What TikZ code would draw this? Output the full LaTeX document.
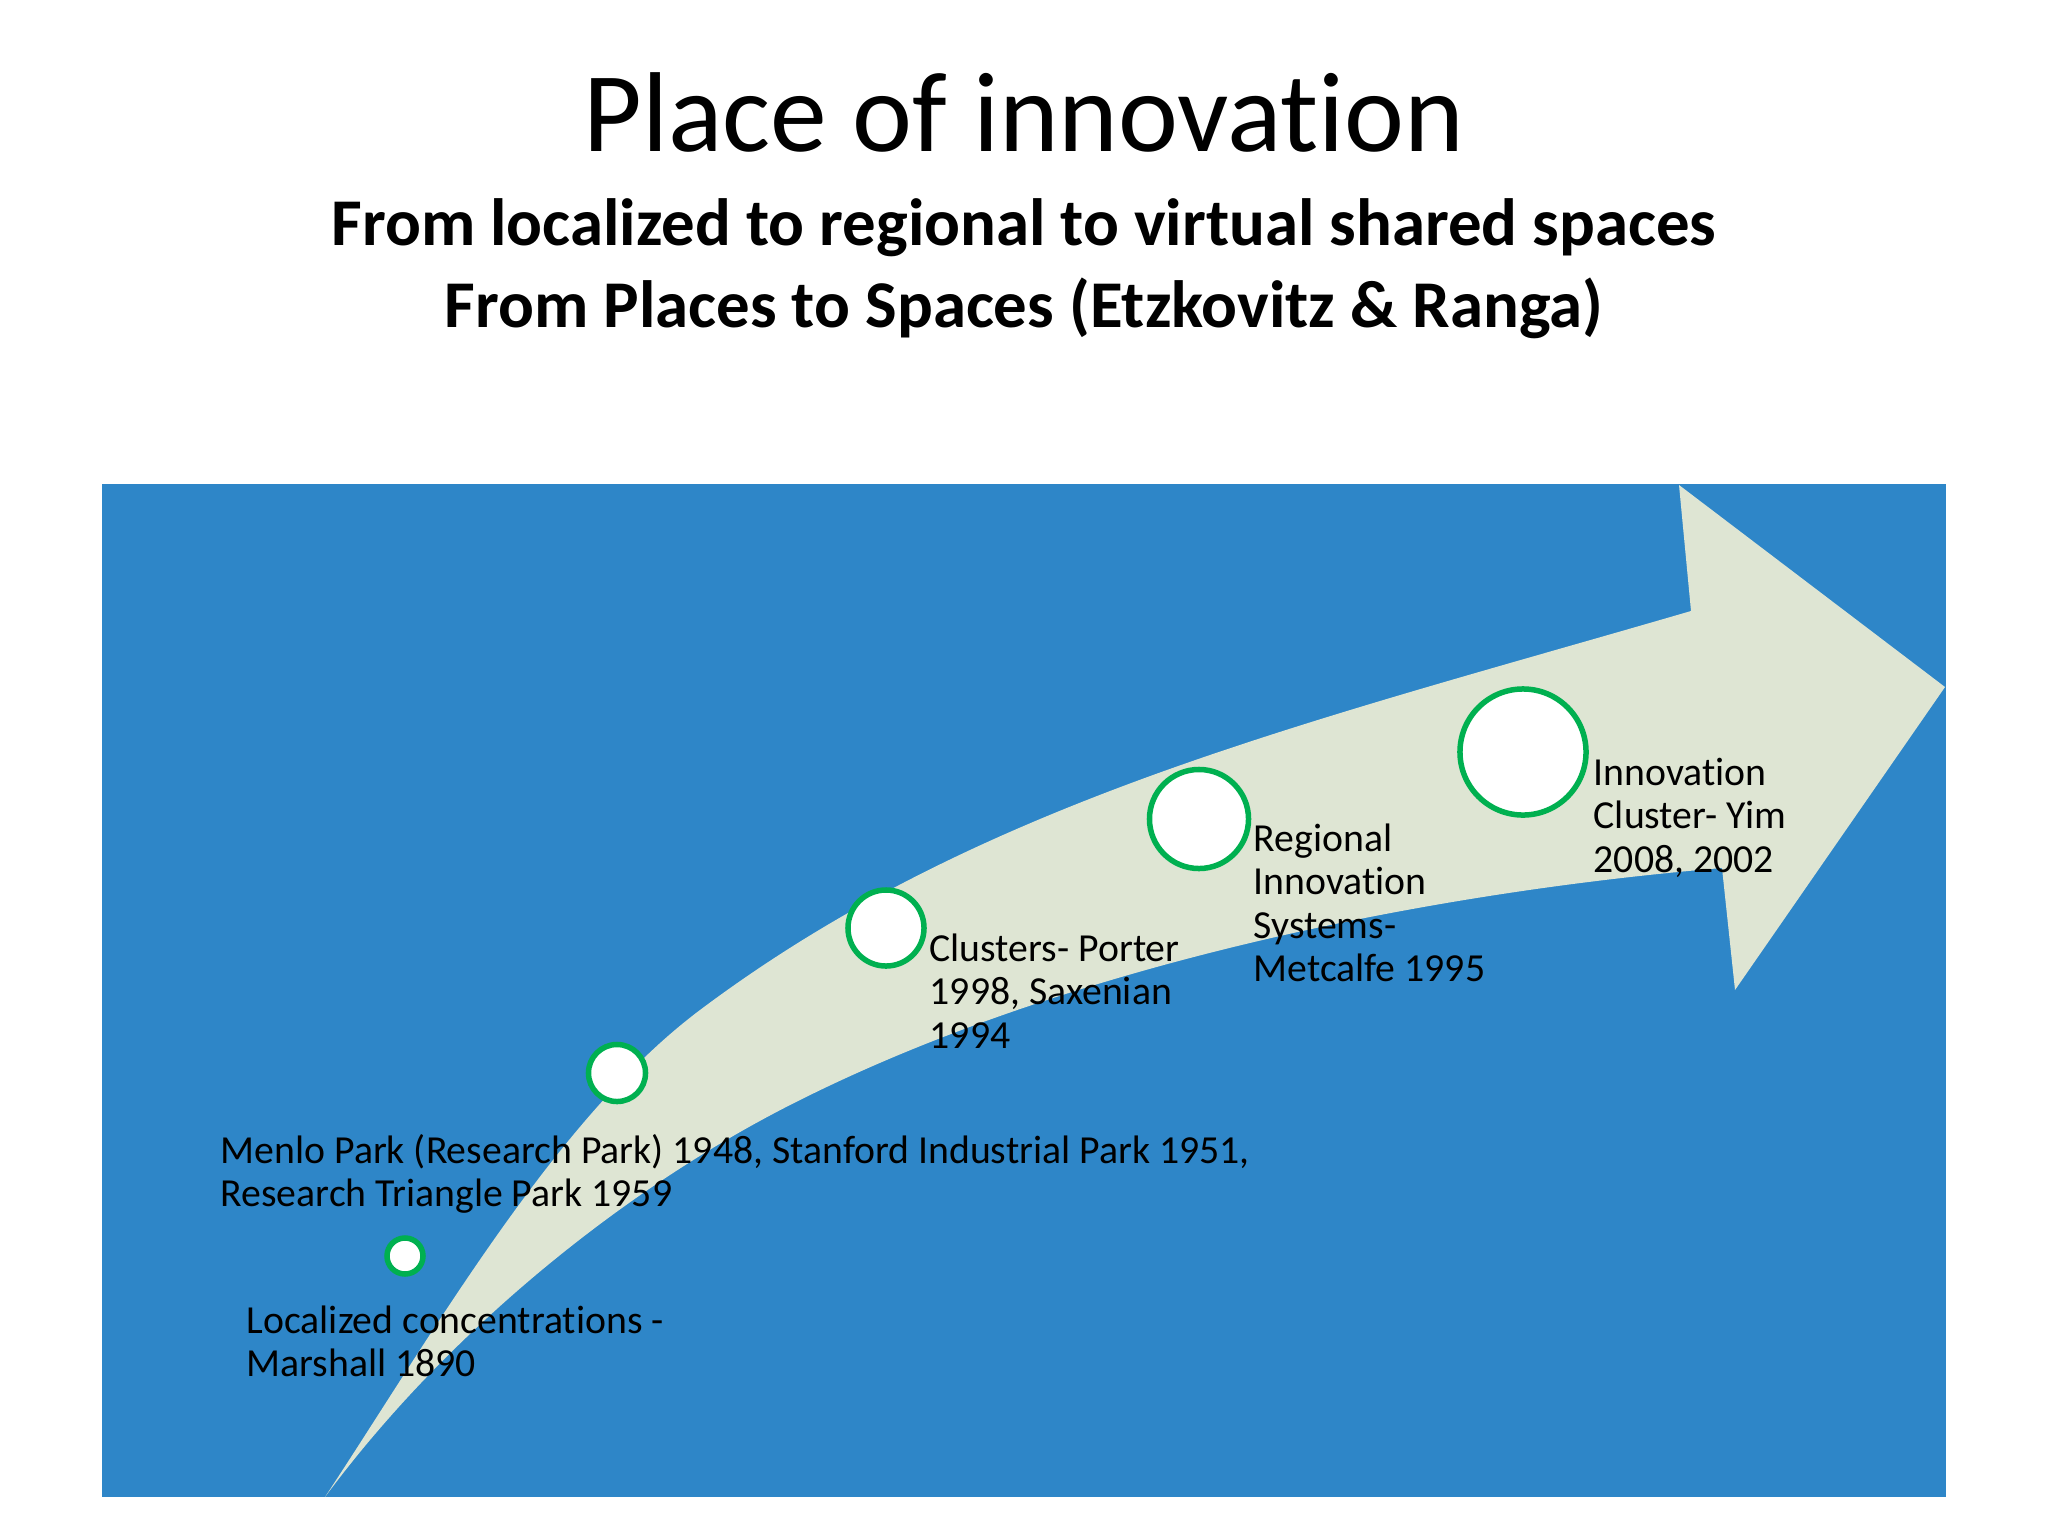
\documentclass[tikz,border=0pt]{standalone}
\usepackage{fontspec}
\setmainfont{Carlito}[Ligatures=CommonOff]
\definecolor{bgblue}{RGB}{46,134,200}
\definecolor{bandcol}{RGB}{222,229,211}
\definecolor{ringgreen}{RGB}{0,176,80}
\begin{document}
\begin{tikzpicture}[x=0.01cm,y=-0.01cm,
  ring/.style={circle, draw=ringgreen, fill=white, line width=0.055cm, inner sep=0pt},
  lbl/.style={anchor=base west, font=\fontsize{11.3}{12.4}\selectfont, inner sep=0pt, text=black}]
\useasboundingbox (0,0) rectangle (2048,1536);
\fill[white] (0,0) rectangle (2048,1536);
\fill[bgblue] (102,484) rectangle (1946,1497);
% curved arrow
\fill[bandcol] (325,1497) .. controls (435,1330) and (556,1118) .. (700,1010)
  .. controls (980,800) and (1307,723) .. (1691,611)
  -- (1679,485) -- (1945,687) -- (1735,990) -- (1722,868)
  .. controls (1423,893) and (1068,966) .. (800,1100)
  .. controls (621,1189) and (444,1336) .. (325,1497) -- cycle;

\node[anchor=base, font=\fontsize{32.3}{38}\selectfont] (title) at (1024,151.7) {Place of innovation};
\node[anchor=base, font=\bfseries\fontsize{19}{22.8}\selectfont] (sub1) at (1024,245.7) {From localized to regional to virtual shared spaces};
\node[anchor=base, font=\bfseries\fontsize{19}{22.8}\selectfont] (sub2) at (1024,327.3) {From Places to Spaces (Etzkovitz \& Ranga)};

\node[ring, minimum size=0.36cm] (c1) at (405,1256) {};
\node[ring, minimum size=0.57cm] (c2) at (617,1073) {};
\node[ring, minimum size=0.76cm] (c3) at (886,928) {};
\node[ring, minimum size=0.99cm] (c4) at (1199,819) {};
\node[ring, minimum size=1.26cm] (c5) at (1523,752) {};

\node[lbl] (l1) at (246,1333) {\begin{tabular}[t]{@{}l@{}}Localized concentrations -\\Marshall 1890\end{tabular}};
\node[lbl] (l2) at (220,1163) {\begin{tabular}[t]{@{}l@{}}Menlo Park (Research Park) 1948, Stanford Industrial Park 1951,\\Research Triangle Park 1959\end{tabular}};
\node[lbl] (l3) at (929,961) {\begin{tabular}[t]{@{}l@{}}Clusters- Porter\\1998, Saxenian\\1994\end{tabular}};
\node[lbl] (l4) at (1253,851) {\begin{tabular}[t]{@{}l@{}}Regional\\Innovation\\Systems-\\Metcalfe 1995\end{tabular}};
\node[lbl] (l5) at (1593,785) {\begin{tabular}[t]{@{}l@{}}Innovation\\Cluster- Yim\\2008, 2002\end{tabular}};
\end{tikzpicture}
\end{document}
